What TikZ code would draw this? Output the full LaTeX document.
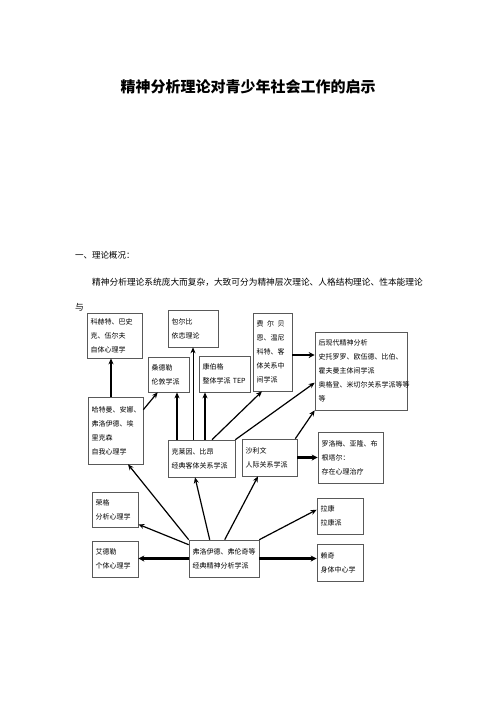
\documentclass[tikz,border=0pt]{standalone}
\usepackage{fontspec}
\setmainfont{Noto Sans CJK SC}
\usetikzlibrary{arrows.meta}

\begin{document}
\begin{tikzpicture}[x=1pt, y=-1pt,
    schoolbox/.style={draw=black!65, line width=0.6pt, fill=white, inner sep=3.5pt,
      align=left, font=\fontsize{7}{14}\selectfont},
    link/.style={line width=1.2pt, -{Stealth[length=6pt, width=5pt]}},
    boldlink/.style={line width=2.2pt, -{Stealth[length=6pt, width=6pt]}}]
      \useasboundingbox (0,0) rectangle (496,702);
      \node (title) at (248,87) {\fontsize{15}{18}\selectfont\bfseries 精神分析理论对青少年社会工作的启示};
      \node[anchor=west, inner sep=0pt] (head) at (75,255) {\fontsize{8.5}{10}\selectfont 一、理论概况：};
      \node[anchor=west, inner sep=0pt] (para) at (92,282) {\fontsize{8.7}{10}\selectfont 精神分析理论系统庞大而复杂，大致可分为精神层次理论、人格结构理论、性本能理论};
      \node[anchor=west, inner sep=0pt] (yu) at (75,307) {\fontsize{8.7}{10}\selectfont 与};

      \node[schoolbox, text width=48pt, minimum height=45pt] (self) at (114.5,335.5) {科赫特、巴史\\克、伍尔夫\\自体心理学};
      \node[schoolbox, text width=43pt, minimum height=37pt] (bowlby) at (193,328.5) {包尔比\\依恋理论};
      \node[schoolbox, text width=34pt, minimum height=35pt] (london) at (168.5,374.5) {桑德勒\\伦敦学派};
      \node[schoolbox, text width=44pt, minimum height=36pt] (kernberg) at (224.5,374) {康伯格\\整体学派 TEP};
      \node[schoolbox, text width=32pt, minimum height=78pt] (middle) at (272.5,352) {\makebox[28pt][s]{费\hfil 尔\hfil 贝}\\恩、温尼\\科特、客\\体关系中\\间学派};
      \node[schoolbox, text width=85pt, minimum height=78pt] (postmod) at (361,371) {后现代精神分析\\史托罗罗、欧伍德、比伯、\\霍夫曼主体间学派\\奥格登、米切尔关系学派等等\\等};
      \node[schoolbox, text width=48pt, minimum height=67pt] (ego) at (115.5,430.5) {哈特曼、安娜、\\弗洛伊德、埃\\里克森\\自我心理学};
      \node[schoolbox, text width=60pt, minimum height=37pt] (object) at (201.5,458.5) {克莱因、比昂\\经典客体关系学派};
      \node[schoolbox, text width=48pt, minimum height=37pt] (sullivan) at (269.5,457.5) {沙利文\\人际关系学派};
      \node[schoolbox, text width=58pt, minimum height=51pt] (exist) at (350.5,457.5) {罗洛梅、亚隆、布\\根塔尔：\\存在心理治疗};
      \node[schoolbox, text width=39pt, minimum height=35pt] (jung) at (115,509.5) {荣格\\分析心理学};
      \node[schoolbox, text width=39pt, minimum height=36pt] (adler) at (115,559) {艾德勒\\个体心理学};
      \node[schoolbox, text width=63pt, minimum height=37pt] (freud) at (224,558.5) {弗洛伊德、弗伦奇等\\经典精神分析学派};
      \node[schoolbox, text width=39pt, minimum height=36pt] (lacan) at (340,516) {拉康\\拉康派};
      \node[schoolbox, text width=39pt, minimum height=37pt] (reich) at (340,562.5) {赖奇\\身体中心学};

      \draw[link] ([xshift=-4.5pt]ego.north) -- ([xshift=-3.5pt]self.south);
      \draw[link] ([yshift=-13pt]ego.north east) -- ([xshift=10pt]london.south west);
      \draw[link] ([xshift=-24.5pt]object.north) -- ([xshift=8.5pt]london.south);
      \draw[link, line width=0.8pt] ([xshift=-8.5pt]object.north) -- (bowlby.south);
      \draw[link] ([xshift=3.5pt]object.north) -- ([xshift=-19.5pt]kernberg.south);
      \draw[link] ([xshift=10.5pt]object.north) -- ([xshift=-10.5pt]middle.south);
      \draw[link] (object.north east) -- ([yshift=-51pt]postmod.north west);
      \draw[link] ([xshift=-2pt]sullivan.north east) -- (postmod.south west);
      \draw[boldlink] ([yshift=-3pt]middle.east) -- ([yshift=-3pt]middle.east -| postmod.west);
      \draw[boldlink] (sullivan.east) -- (exist.west);

      \draw[link] ([yshift=-5pt]freud.north west) -- ([yshift=3pt]jung.south east);
      \draw[boldlink] (freud.west) -- (freud.west -| adler.east);
      \draw[link] (freud.north west) -- ([xshift=12.5pt]ego.south);
      \draw[link] ([xshift=21pt]freud.north west) -- ([xshift=-6.5pt]object.south);
      \draw[link] ([xshift=36pt]freud.north west) -- ([xshift=-11.5pt]sullivan.south);
      \draw[link] (freud.north east) -- ([yshift=-12pt]lacan.north west);
      \draw[boldlink] (freud.east) -- (freud.east -| reich.west);
    \end{tikzpicture}
\end{document}
